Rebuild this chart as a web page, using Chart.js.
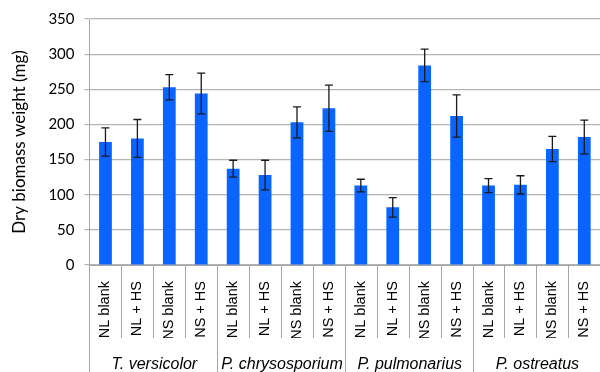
<!DOCTYPE html>
<html>
<head>
<meta charset="utf-8">
<script src="https://cdn.jsdelivr.net/npm/chart.js@4.4.1/dist/chart.umd.min.js"></script>
<style>
  html, body { margin: 0; padding: 0; overflow: hidden; background: #fff; }
  #chart { display: block; }
</style>
</head>
<body>
<canvas id="chart" width="600" height="372"></canvas>
<script>
// Treatments per species and the species groups
const treatments = ['NL blank', 'NL + HS', 'NS blank', 'NS + HS'];
const species = ['T. versicolor', 'P. chrysosporium', 'P. pulmonarius', 'P. ostreatus'];

// Mean dry biomass weight (mg) and error (mg), four treatments per species
const meanWeight = [175, 180, 253, 244,  137, 128, 203, 223,  113, 82, 284, 212,  113, 114, 165, 182];
const errWeight  = [20, 27, 18, 29,  12, 21, 22, 33,  9, 14, 23, 30,  10, 13, 18, 24];

// Y-axis ticks
const yTicks = [0, 50, 100, 150, 200, 250, 300, 350];

const labels = [];
species.forEach(() => treatments.forEach(t => labels.push(t)));

const NUM_FONT = 'Lato, "Liberation Sans", sans-serif';
const CAT_FONT = '"Liberation Sans", Arial, sans-serif';
const X_AXIS_HEIGHT = 73;
const OVERHANG_RIGHT = 10; // plot continues past the canvas edge

// Let the plot area run past the right edge so the last category is cut off
const overhang = {
  id: 'overhang',
  afterLayout(chart) {
    const xs = chart.scales.x;
    const area = chart.chartArea;
    area.right += OVERHANG_RIGHT;
    area.width += OVERHANG_RIGHT;
    xs.right += OVERHANG_RIGHT;
    xs.width += OVERHANG_RIGHT;
    xs.configure();
  }
};

// Error bars with caps
const errorBars = {
  id: 'errorBars',
  afterDatasetsDraw(chart) {
    const meta = chart.getDatasetMeta(0);
    const y = chart.scales.y;
    const ctx = chart.ctx;
    ctx.save();
    ctx.strokeStyle = '#1a1a1a';
    ctx.lineWidth = 1.3;
    meta.data.forEach((bar, i) => {
      const top = y.getPixelForValue(meanWeight[i] + errWeight[i]);
      const bot = y.getPixelForValue(meanWeight[i] - errWeight[i]);
      const x = bar.x;
      ctx.beginPath();
      ctx.moveTo(x, top); ctx.lineTo(x, bot);
      ctx.moveTo(x - 4, top); ctx.lineTo(x + 4, top);
      ctx.moveTo(x - 4, bot); ctx.lineTo(x + 4, bot);
      ctx.stroke();
    });
    ctx.restore();
  }
};

// Category dividers under the axis and species group names
const groupAxis = {
  id: 'groupAxis',
  afterDraw(chart) {
    const xs = chart.scales.x;
    const area = chart.chartArea;
    const ctx = chart.ctx;
    const H = chart.height;
    const half = (xs.getPixelForValue(1) - xs.getPixelForValue(0)) / 2;
    const n = labels.length;
    const innerBottom = area.bottom + X_AXIS_HEIGHT;
    ctx.save();
    ctx.strokeStyle = '#a6a6a6';
    ctx.lineWidth = 1;
    // left axis continues to the bottom
    ctx.beginPath();
    ctx.moveTo(Math.round(area.left) + 0.5, area.bottom);
    ctx.lineTo(Math.round(area.left) + 0.5, H);
    ctx.stroke();
    for (let i = 1; i <= n; i++) {
      const bx = Math.round(xs.getPixelForValue(i - 1) + half) + 0.5;
      const isGroup = i % treatments.length === 0;
      ctx.beginPath();
      ctx.moveTo(bx, area.bottom);
      ctx.lineTo(bx, isGroup ? H : innerBottom);
      ctx.stroke();
    }
    ctx.fillStyle = '#000';
    ctx.font = 'italic 16px ' + CAT_FONT;
    ctx.textAlign = 'center';
    ctx.textBaseline = 'alphabetic';
    species.forEach((s, g) => {
      const a = xs.getPixelForValue(g * 4) - half;
      const b = xs.getPixelForValue(g * 4 + 3) + half;
      ctx.fillText(s, (a + b) / 2 + 1, innerBottom + 31);
    });
    ctx.restore();
  }
};

new Chart(document.getElementById('chart'), {
  type: 'bar',
  data: {
    labels: labels,
    datasets: [{
      data: meanWeight,
      backgroundColor: '#0a64ff',
      borderWidth: 0,
      barPercentage: 0.8,
      categoryPercentage: 0.5
    }]
  },
  options: {
    responsive: false,
    animation: false,
    events: [],
    layout: { padding: { top: 12, right: 0, bottom: 34, left: 9 } },
    plugins: { legend: { display: false }, tooltip: { enabled: false } },
    scales: {
      x: {
        afterFit(scale) { scale.height = X_AXIS_HEIGHT; },
        grid: { display: false },
        border: { display: true, color: '#a6a6a6' },
        ticks: {
          autoSkip: false,
          minRotation: 90,
          maxRotation: 90,
          padding: 8,
          color: '#000',
          font: { family: CAT_FONT, size: 14.5 }
        }
      },
      y: {
        min: 0,
        max: 350,
        afterBuildTicks(scale) { scale.ticks = yTicks.map(v => ({ value: v })); },
        grid: { color: '#b4b4b4', lineWidth: 1.2, tickLength: 5, drawTicks: true },
        border: { display: true, color: '#a6a6a6' },
        ticks: { padding: 10, color: '#000', font: { family: NUM_FONT, size: 15 } },
        title: {
          display: true,
          text: 'Dry biomass weight (mg)',
          color: '#000',
          font: { family: NUM_FONT, size: 17 },
          padding: { top: 0, bottom: 9 }
        }
      }
    }
  },
  plugins: [overhang, errorBars, groupAxis]
});
</script>
</body>
</html>
